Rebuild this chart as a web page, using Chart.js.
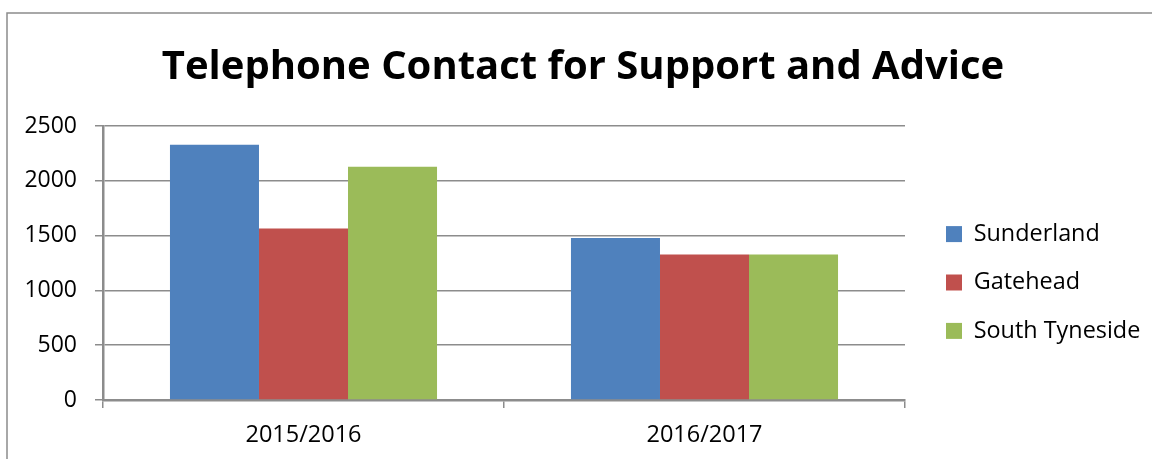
<!DOCTYPE html>
<html>
<head>
<meta charset="utf-8">
<script src="https://cdn.jsdelivr.net/npm/chart.js@4/dist/chart.umd.min.js"></script>
<style>
  html, body { margin: 0; padding: 0; background: #fff; }
  #wrap { width: 1152px; height: 459px; position: relative; }
</style>
</head>
<body>
<div id="wrap"><canvas id="contactChart"></canvas></div>
<script>
const years = ['2015/2016', '2016/2017'];
const sunderland = [2330, 1478];
const gatehead = [1565, 1327];
const southTyneside = [2128, 1327];
const yTicks = [0, 500, 1000, 1500, 2000, 2500];

const axisGrey = '#8c8c8c';
const font = '"Open Sans", "Liberation Sans", sans-serif';

// outer frame of the chart object, runs off the right and bottom edges
const frame = {
  id: 'frame',
  beforeDraw(chart) {
    const ctx = chart.ctx;
    ctx.save();
    ctx.fillStyle = '#fff';
    ctx.fillRect(0, 0, chart.width, chart.height);
    ctx.strokeStyle = '#8c8c8c';
    ctx.lineWidth = 1.5;
    ctx.strokeRect(7, 13, chart.width + 40, chart.height + 40);
    ctx.restore();
  }
};

// fixed-width legend column, moved away from the plot and down beside it
const legendShift = {
  id: 'legendShift',
  beforeLayout(chart) {
    const lg = chart.legend;
    if (!lg._fixedWidth) {
      const fit = lg.fit;
      lg.fit = function () { fit.call(this); this.width = 241; };
      lg._fixedWidth = true;
    }
  },
  afterLayout(chart) {
    const lg = chart.legend;
    lg.left += 16;
    lg.right += 16;
    lg.top += 53;
    lg.bottom += 53;
  }
};

document.addEventListener('DOMContentLoaded', () => {
  const ctx = document.getElementById('contactChart').getContext('2d');

  new Chart(ctx, {
    type: 'bar',
    data: {
      labels: years,
      datasets: [
        { label: 'Sunderland', data: sunderland, backgroundColor: '#4F81BD' },
        { label: 'Gatehead', data: gatehead, backgroundColor: '#C0504D' },
        { label: 'South Tyneside', data: southTyneside, backgroundColor: '#9BBB59' }
      ]
    },
    options: {
      responsive: true,
      maintainAspectRatio: false,
      animation: false,
      events: [],
      layout: { padding: { left: 20, right: 6, top: 0, bottom: 0 } },
      datasets: {
        bar: { categoryPercentage: 0.666, barPercentage: 1.0, borderWidth: 0 }
      },
      plugins: {
        title: {
          display: true,
          text: 'Telephone Contact for Support and Advice',
          color: '#000',
          font: { family: font, size: 40, weight: 'bold', lineHeight: 1.2 },
          padding: { top: 43.5, bottom: 34.5 }
        },
        legend: {
          position: 'right',
          align: 'center',
          labels: {
            color: '#000',
            font: { family: font, size: 23.4 },
            boxWidth: 16,
            boxHeight: 16,
            padding: 25
          }
        },
        tooltip: { enabled: false }
      },
      scales: {
        x: {
          grid: {
            offset: true,
            drawOnChartArea: false,
            drawTicks: true,
            tickLength: 8,
            color: axisGrey,
            lineWidth: 1.5
          },
          border: { color: axisGrey, width: 2.5 },
          ticks: { color: '#000', font: { family: font, size: 23.5 }, padding: 13 },
          afterFit(scale) { scale.height = 59; }
        },
        y: {
          min: yTicks[0],
          max: yTicks[yTicks.length - 1],
          ticks: {
            stepSize: yTicks[1] - yTicks[0],
            color: '#000',
            font: { family: font, size: 23 },
            padding: 18,
            callback: (v) => String(v)
          },
          grid: { color: axisGrey, lineWidth: 1.5, tickLength: 8 },
          border: { color: axisGrey, width: 2.5 },
          afterFit(scale) { scale.width = 83; }
        }
      }
    },
    plugins: [frame, legendShift]
  });
});
</script>
</body>
</html>
